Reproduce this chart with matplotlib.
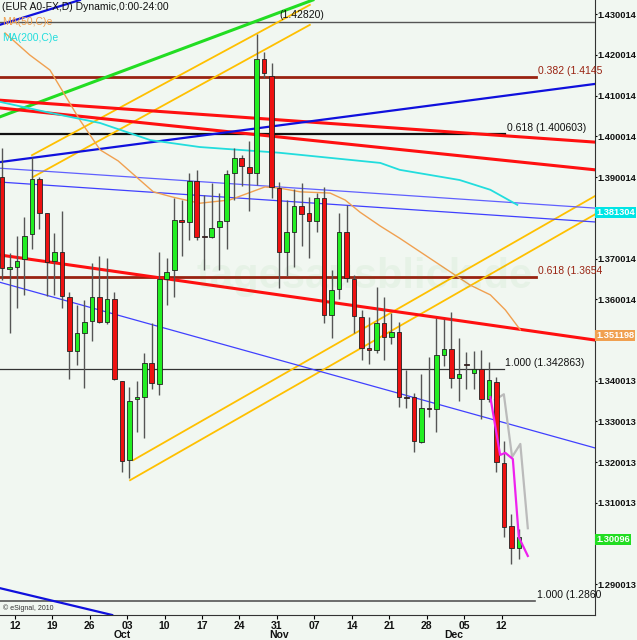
import numpy as np
import matplotlib.pyplot as plt

plt.rcParams["font.family"] = ["Liberation Sans", "DejaVu Sans"]

# ---- daily EUR/USD candles ----
opens = [1.3900, 1.3674, 1.3679, 1.3699, 1.3760, 1.3895, 1.3812, 1.3694, 1.3716, 1.3606,
         1.3473, 1.3517, 1.3547, 1.3606, 1.3544, 1.3601, 1.3399, 1.3205, 1.3355, 1.3360,
         1.3444, 1.3392, 1.3650, 1.3672, 1.3795, 1.3790, 1.3890, 1.3755, 1.3753, 1.3778,
         1.3792, 1.3910, 1.3947, 1.3925, 1.3910, 1.4190, 1.4148, 1.3873, 1.3716, 1.3765,
         1.3829, 1.3812, 1.3792, 1.3849, 1.3561, 1.3625, 1.3765, 1.3650, 1.3557, 1.3480,
         1.3475, 1.3542, 1.3507, 1.3520, 1.3360, 1.3360, 1.3250, 1.3333, 1.3331, 1.3463,
         1.3478, 1.3407, 1.3441, 1.3419, 1.3429, 1.3355, 1.3397, 1.3198, 1.3043, 1.2989]
highs = [1.3972, 1.3714, 1.3755, 1.3802, 1.3949, 1.3900, 1.3812, 1.3763, 1.3817, 1.3618,
         1.3586, 1.3598, 1.3689, 1.3706, 1.3701, 1.3618, 1.3399, 1.3385, 1.3399, 1.3468,
         1.3542, 1.3716, 1.3701, 1.3849, 1.3844, 1.3910, 1.3918, 1.3856, 1.3886, 1.3861,
         1.3918, 1.3972, 1.3954, 1.3989, 1.4251, 1.4207, 1.4180, 1.3888, 1.3844, 1.3871,
         1.3886, 1.3851, 1.3861, 1.3876, 1.3672, 1.3812, 1.3832, 1.3660, 1.3574, 1.3557,
         1.3630, 1.3606, 1.3566, 1.3544, 1.3426, 1.3370, 1.3416, 1.3458, 1.3554, 1.3552,
         1.3569, 1.3505, 1.3471, 1.3473, 1.3475, 1.3446, 1.3409, 1.3252, 1.3073, 1.3036]
lows = [1.3647, 1.3517, 1.3579, 1.3611, 1.3723, 1.3773, 1.3608, 1.3611, 1.3579, 1.3404,
        1.3439, 1.3382, 1.3498, 1.3542, 1.3539, 1.3402, 1.3176, 1.3161, 1.3274, 1.3259,
        1.3380, 1.3365, 1.3586, 1.3606, 1.3706, 1.3746, 1.3746, 1.3672, 1.3750, 1.3672,
        1.3723, 1.3844, 1.3878, 1.3817, 1.3881, 1.4143, 1.3849, 1.3628, 1.3657, 1.3679,
        1.3731, 1.3701, 1.3765, 1.3542, 1.3505, 1.3601, 1.3642, 1.3517, 1.3451, 1.3441,
        1.3468, 1.3451, 1.3490, 1.3335, 1.3333, 1.3225, 1.3247, 1.3311, 1.3274, 1.3436,
        1.3382, 1.3350, 1.3380, 1.3380, 1.3306, 1.3348, 1.3176, 1.3016, 1.2950, 1.2962]
closes = [1.3677, 1.3679, 1.3694, 1.3755, 1.3895, 1.3812, 1.3692, 1.3716, 1.3608, 1.3473,
          1.3517, 1.3544, 1.3606, 1.3544, 1.3601, 1.3404, 1.3203, 1.3350, 1.3360, 1.3444,
          1.3394, 1.3650, 1.3667, 1.3795, 1.3790, 1.3890, 1.3753, 1.3753, 1.3775, 1.3792,
          1.3908, 1.3947, 1.3927, 1.3910, 1.4190, 1.4156, 1.3876, 1.3716, 1.3765, 1.3829,
          1.3809, 1.3792, 1.3849, 1.3561, 1.3623, 1.3765, 1.3652, 1.3559, 1.3480, 1.3475,
          1.3542, 1.3507, 1.3520, 1.3360, 1.3358, 1.3252, 1.3333, 1.3331, 1.3463, 1.3478,
          1.3407, 1.3416, 1.3439, 1.3429, 1.3355, 1.3402, 1.3200, 1.3041, 1.2989, 1.3016]

# ---- moving averages / projections (index, price) ----
ma50_x = [0.4, 3.7, 6.4, 10.4, 13.1, 15.5, 18.4, 20.2, 22.8, 26.4, 30.4, 35.1, 37.1, 39.8,
          43.8, 45.8, 47.8, 50.5, 53.1, 58.5, 62.5, 65.2, 67.2, 69.2]
ma50_y = [1.4254, 1.4200, 1.4163, 1.4040, 1.3967, 1.3940, 1.3893, 1.3864, 1.3851, 1.3836,
          1.3844, 1.3876, 1.3873, 1.3864, 1.3861, 1.3844, 1.3814, 1.3780, 1.3750, 1.3684,
          1.3635, 1.3611, 1.3574, 1.3525]
ma200_x = [-0.3, 6.4, 13.1, 19.8, 26.4, 37.0, 50.5, 53.1, 61.1, 65.2, 68.8]
ma200_y = [1.4085, 1.4058, 1.4033, 1.3991, 1.3974, 1.3960, 1.3935, 1.3918, 1.3893, 1.3869, 1.3832]
magenta_x = [65.2, 66.5, 67.2, 68.2, 69.0, 70.2]
magenta_y = [1.3360, 1.3218, 1.3223, 1.3208, 1.3016, 1.2970]
gray_x = [65.8, 67.0, 68.1, 69.2, 70.2]
gray_y = [1.3353, 1.3367, 1.3213, 1.3245, 1.3038]

# trend lines: (x0, y0, x1, y1, color, width)
trend_lines = [
    (-0.3, 1.4048, 41.5, 1.4335, "#22dd22", 2.2),
    (4.0, 1.3954, 41.1, 1.4323, "#ffc000", 1.3),
    (4.1, 1.3900, 41.1, 1.4274, "#ffc000", 1.3),
    (17.5, 1.3205, 79.2, 1.3854, "#ffc000", 1.3),
    (17.1, 1.3156, 79.2, 1.3809, "#ffc000", 1.3),
    (-0.3, 1.4089, 79.2, 1.3986, "#ff1010", 2.2),
    (-0.3, 1.4070, 79.2, 1.3918, "#ff1010", 2.2),
    (-0.3, 1.3709, 79.2, 1.3500, "#ff1010", 2.2),
    (-0.3, 1.3937, 79.2, 1.4129, "#1010dd", 1.6),
    (-0.3, 1.4274, 10.4, 1.4335, "#1010dd", 1.6),
    (-0.3, 1.2891, 14.7, 1.2825, "#1010dd", 1.6),
    (-0.3, 1.3922, 79.2, 1.3824, "#6060ff", 0.9),
    (-0.3, 1.3888, 79.2, 1.3790, "#4040ff", 0.9),
    (-0.3, 1.3642, 79.2, 1.3235, "#4040ff", 0.9),
]

# fibonacci levels: (price, end index, color, width, label)
fib_levels = [
    (1.42820, 79.2, "#555555", 1.0, "(1.42820)"),
    (1.4145, 71.3, "#992211", 2.0, "0.382 (1.4145"),
    (1.400603, 67.2, "#111111", 1.6, "0.618 (1.400603)"),
    (1.3654, 71.3, "#992211", 2.0, "0.618 (1.3654"),
    (1.342863, 67.0, "#333333", 0.9, "1.000 (1.342863)"),
    (1.2860, 71.2, "#555555", 1.2, "1.000 (1.2860"),
]

yticks = [1.430014, 1.420014, 1.410014, 1.400014, 1.390014, 1.370014, 1.360014,
          1.340013, 1.330013, 1.320013, 1.310013, 1.290013]
xtick_labels = ["12", "19", "26", "03", "10", "17", "24", "31", "07", "14", "21", "28", "05", "12"]
months = [("Oct", 16.1), ("Nov", 37.0), ("Dec", 60.3)]
price_boxes = [(1.381304, "#00e5e5", "1.381304"), (1.351198, "#f0a050", "1.351198"),
               (1.30096, "#22dd22", "1.30096")]

bg = "#f1f7f1"
fig = plt.figure(figsize=(6.37, 6.40), dpi=100, facecolor=bg)
ax = fig.add_axes([0.0, 25 / 640, 595 / 637, 615 / 640], facecolor=bg)
ax.set_xlim(-0.27, 79.17)
ax.set_ylim(1.2825, 1.4335)

ax.text(0.33, 0.55, "tagesausblick.de", transform=ax.transAxes, fontsize=30,
        color="#2a9a2a", alpha=0.05, fontweight="bold", ha="left", va="center")

for lvl, xe, col, lw, lab in fib_levels:
    ax.plot([-0.27, xe], [lvl, lvl], color=col, lw=lw, zorder=2)
for x0, y0, x1, y1, col, lw in trend_lines:
    ax.plot([x0, x1], [y0, y1], color=col, lw=lw, zorder=2)
ax.plot(ma50_x, ma50_y, color="#f0a050", lw=1.0, zorder=2)
ax.plot(ma200_x, ma200_y, color="#22dddd", lw=1.3, zorder=2)
ax.plot(gray_x, gray_y, color="#bbbbbb", lw=1.6, zorder=2)
ax.plot(magenta_x, magenta_y, color="#ee22ee", lw=1.6, zorder=4)

# candles
idx = np.arange(len(opens))
o = np.array(opens); c = np.array(closes)
ax.vlines(idx, lows, highs, color="#555555", lw=1.0, zorder=3)
up = c >= o
body = np.maximum(np.abs(c - o), 0.00025)
ax.bar(idx[up], body[up], bottom=o[up], width=0.62, color="#22ee22",
       edgecolor="#222222", lw=0.6, zorder=3)
ax.bar(idx[~up], body[~up], bottom=c[~up], width=0.62, color="#ee1111",
       edgecolor="#222222", lw=0.6, zorder=3)

# fib labels
for lvl, xe, col, lw, lab in fib_levels:
    if lab == "(1.42820)":
        ax.text(37.0, lvl + 0.0004, lab, color="#111111", fontsize=7.5, va="bottom")
    else:
        tc = "#992211" if col == "#992211" else "#111111"
        ax.text(xe + 0.2, lvl + 0.0003, lab, color=tc, fontsize=7.5, va="bottom")

ax.text(0.003, 0.997, "(EUR A0-FX,D) Dynamic,0:00-24:00", transform=ax.transAxes,
        fontsize=7.5, va="top", color="#111111")
ax.text(0.003, 0.972, "MA(50,C)e", transform=ax.transAxes, fontsize=7.5, va="top",
        color="#f0a050")
ax.text(0.003, 0.947, "MA(200,C)e", transform=ax.transAxes, fontsize=7.5, va="top",
        color="#22dddd")
ax.text(0.005, 0.005, "© eSignal, 2010", transform=ax.transAxes, fontsize=5,
        color="#333333", va="bottom")

# axes styling
for s in ["top", "left"]:
    ax.spines[s].set_visible(False)
ax.spines["right"].set_color("#333333")
ax.spines["bottom"].set_color("#333333")
ax.yaxis.tick_right()
ax.set_yticks(yticks)
ax.set_yticklabels([f"{t:.6f}" for t in yticks], fontsize=6.7, fontweight="bold",
                   color="#111111")
ax.tick_params(axis="y", length=1.5, pad=0.5)
ax.set_xticks([1.7 + 5 * k for k in range(len(xtick_labels))])
ax.set_xticklabels(xtick_labels, fontsize=7.5, fontweight="bold", color="#111111")
ax.tick_params(axis="x", length=3, pad=1)
for name, xm in months:
    ax.annotate(name, (xm, 0), xycoords=ax.get_xaxis_transform(), xytext=(0, -11),
                textcoords="offset points", ha="center", va="top", fontsize=7.5,
                fontweight="bold", color="#111111")

for val, col, lab in price_boxes:
    ax.text(1.002, val, lab, transform=ax.get_yaxis_transform(), fontsize=6.7,
            fontweight="bold", color="white", va="center", ha="left", zorder=5,
            bbox=dict(boxstyle="square,pad=0.12", fc=col, ec="none"))

fig.savefig("out.png", dpi=100, facecolor=bg)
